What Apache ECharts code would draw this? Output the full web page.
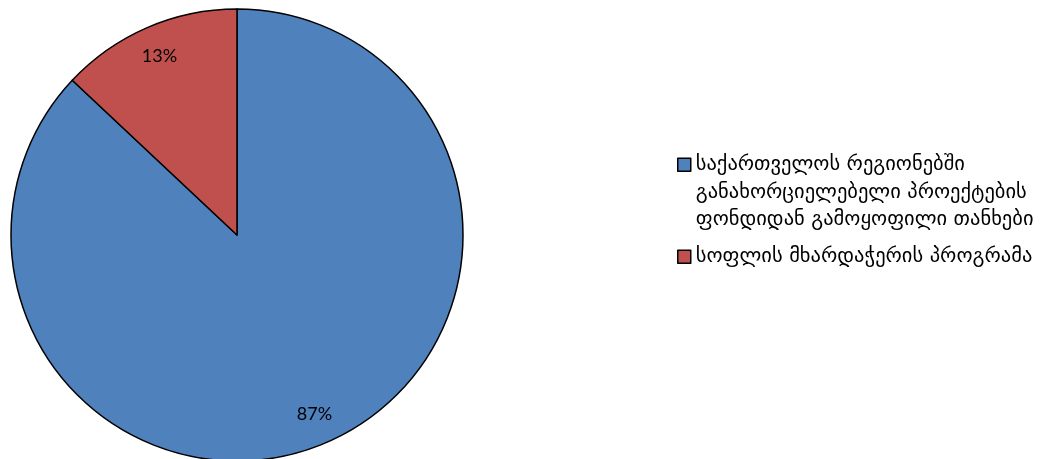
<!DOCTYPE html>
<html>
<head>
<meta charset="utf-8">
<script src="https://cdn.jsdelivr.net/npm/echarts@6/dist/echarts.min.js"></script>
<style>
  html, body { margin: 0; padding: 0; background: #fff; }
  #chart { width: 1040px; height: 459px; }
</style>
</head>
<body>
<div id="chart"></div>
<script>
// Funding shares (percent)
const categories = [
  'საქართველოს რეგიონებში\nგანახორციელებელი პროექტების\nფონდიდან გამოყოფილი თანხები',
  'სოფლის მხარდაჭერის პროგრამა'
];
const shares = [87, 13];
const colors = ['#4F81BD', '#C0504D'];

const pieData = categories.map((name, i) => ({
  name: name,
  value: shares[i],
  itemStyle: { color: colors[i] }
}));

const center = [237, 235];
const R = 226;
const LINE_H = 27.5;

const legendBase = {
  orient: 'vertical',
  left: 677,
  padding: 0,
  icon: 'rect',
  itemWidth: 13,
  itemHeight: 13,
  itemGap: 4,
  selectedMode: false,
  itemStyle: { borderColor: '#000', borderWidth: 1.5 },
  textStyle: {
    fontFamily: 'DejaVu Sans',
    fontSize: 20.5,
    color: '#000',
    lineHeight: LINE_H
  }
};

const chart = echarts.init(document.getElementById('chart'), null, { renderer: 'canvas' });
chart.setOption({
  animation: false,
  backgroundColor: '#fff',
  legend: [
    Object.assign({}, legendBase, {
      top: 96,
      data: [categories[0]],
      // two leading blank lines keep the marker level with the first text line
      formatter: name => '\n\n' + name
    }),
    Object.assign({}, legendBase, {
      top: 243,
      data: [categories[1]]
    })
  ],
  series: [
    {
      type: 'pie',
      center: center,
      radius: [0, R],
      startAngle: 90,
      clockwise: true,
      silent: true,
      label: { show: false },
      labelLine: { show: false },
      itemStyle: { borderColor: '#000', borderWidth: 1.5 },
      data: pieData
    },
    {
      // transparent ring used only to place the percentage labels near the rim
      type: 'pie',
      center: center,
      radius: [R * 0.7, R],
      startAngle: 90,
      clockwise: true,
      silent: true,
      legendHoverLink: false,
      itemStyle: { color: 'rgba(0,0,0,0)', borderWidth: 0 },
      label: {
        show: true,
        position: 'inside',
        formatter: '{c}%',
        fontFamily: 'Lato',
        fontSize: 18,
        color: '#000'
      },
      labelLine: { show: false },
      data: pieData.map(d => ({ name: d.name, value: d.value }))
    }
  ]
});
</script>
</body>
</html>
